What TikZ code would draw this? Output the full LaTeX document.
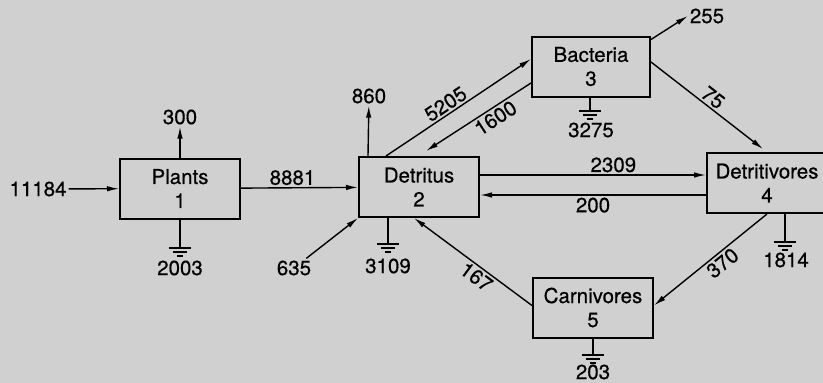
\documentclass[tikz,border=0pt]{standalone}
\usepackage{fontspec}
\setmainfont{TeX Gyre Heros}[FakeBold=0.5]
\usetikzlibrary{arrows.meta}
\definecolor{bggray}{RGB}{208,208,208}

\begin{document}
\begin{tikzpicture}[x=1pt,y=-1pt,
  every node/.style={font=\fontsize{20.5}{24}\selectfont, inner sep=2pt},
  box/.style={draw=black, line width=2pt, minimum width=120pt, minimum height=60pt, align=center, inner sep=0pt},
  flow/.style={line width=1.4pt, -{Latex[length=12pt,width=5.5pt]}},
  wire/.style={line width=1.4pt},
  earth/.pic={\draw[line width=1.4pt] (-11,0) -- (11,0) (-7,4) -- (7,4) (-3,8) -- (3,8);}]
\useasboundingbox (0,0) rectangle (823,383);
\fill[bggray] (0,0) rectangle (823,383);
% compartments
\node[box] (plants) at (180,188.5) {Plants\\1};
\node[box] (detr) at (419,187) {Detritus\\2};
\node[box, minimum width=118pt] (bact) at (591,66.5) {Bacteria\\3};
\node[box] (dtv) at (767,183) {Detritivores\\4};
\node[box] (carn) at (593,307.5) {Carnivores\\5};
% flow values
\node (n11184) at (38,189) {11184};
\node (n300) at (180,117) {300};
\node (n2003) at (180,268) {2003};
\node (n860) at (369,96) {860};
\node (n635) at (294,268) {635};
\node (n3109) at (388,266) {3109};
\node (n255) at (707,16) {255};
\node (n3275) at (591,130) {3275};
\node (n1814) at (786,260) {1814};
\node (n203) at (593,372) {203};
% flows
\draw[flow] (n11184) -- (plants);
\draw[flow] (plants) -- (n300);
\draw[flow] (plants) -- node[above, pos=0.44] {8881} (detr);
\draw[flow] ([xshift=10pt]detr.north west) -- (n860);
\draw[flow] (n635) -- (detr.south west);
\draw[flow] ([xshift=28pt]detr.north west) -- node[sloped, above, pos=0.45] {5205} ([yshift=7.5pt]bact.west);
\draw[flow] ([yshift=-16.5pt]bact.west) -- node[sloped, below, pos=0.39] {1600} ([xshift=68pt, yshift=5pt]detr.north west);
\draw[flow] ([yshift=-4pt]bact.north east) -- (n255.west);
\draw[flow] ([yshift=4.5pt]bact.east) -- node[sloped, above] {75} ([xshift=57pt, yshift=3pt]dtv.north west);
\draw[flow] ([yshift=12pt]detr.east) -- node[above, pos=0.59] {2309} ([yshift=12pt]detr.east -| dtv.west);
\draw[flow] ([yshift=-8pt]detr.east -| dtv.west) -- node[below] {200} ([yshift=-8pt]detr.east);
\draw[flow] ([xshift=61pt]dtv.south west) -- node[sloped, below, pos=0.45] {370} ([yshift=2pt]carn.east);
\draw[flow] ([yshift=2pt]carn.west) -- node[sloped, below, pos=0.42] {167} ([xshift=56pt]detr.south west);
% respiration to ground
\coordinate (g1) at (180,248);
\coordinate (g2) at (388,244);
\coordinate (g3) at (590,111);
\coordinate (g4) at (785,242);
\coordinate (g5) at (593,355);
\foreach \b/\g in {plants/g1, detr/g2, bact/g3, dtv/g4, carn/g5} {
  \draw[wire] (\b.south -| \g) -- (\g);
  \pic at (\g) {earth};
}
\end{tikzpicture}
\end{document}
